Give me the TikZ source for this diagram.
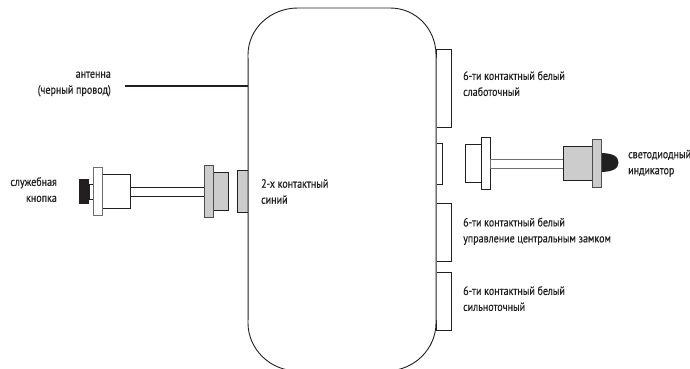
\documentclass[tikz,border=0pt]{standalone}
\usepackage{fontspec}
\setmainfont[FakeStretch=0.835,FakeBold=0.4]{PT Sans}
\definecolor{lg}{RGB}{204,204,204}
\definecolor{ln}{RGB}{35,31,32}
\definecolor{gl}{RGB}{110,110,110}
\newcommand{\tp}{\vphantom{(}}
\tikzset{
 lab/.style={font=\fontsize{12}{16}\selectfont,text=ln,inner sep=0pt},
 labl/.style={lab,align=left,anchor=north west},
 labr/.style={lab,align=right,anchor=north east},
 part/.style={draw=ln,line width=0.8pt,fill=white},
 partg/.style={part,fill=lg},
 flange/.style={draw=gl,line width=1pt,fill=white},
 flangeg/.style={draw=ln!80,line width=1pt,fill=lg},
 body/.style={draw=ln,line width=0.9pt,fill=white},
}
\begin{document}
\begin{tikzpicture}[x=1pt,y=-1pt]
\useasboundingbox (0,0) rectangle (690,369);
\begin{scope}
\clip (0,0) rectangle (690,369);
% right sockets
\draw[part] (436,49) rectangle (451,127.5);
\draw[part] (436,143) rectangle (442.5,184);
\draw[part] (436,203) rectangle (451,261);
\draw[part] (436,272) rectangle (451,330);
% blue socket
\draw[partg] (237,170.5) rectangle (248,212);
% body
\path[body] (248,55) .. controls (248,29) and (270,8) .. (298,8) -- (390,8) .. controls (416,8) and (436,29) .. (436,55)
 -- (436,323) .. controls (436,349) and (414,371) .. (386,371) -- (298,371) .. controls (270,371) and (248,349) .. (248,323) -- cycle;
\draw[gl,line width=1pt] (248,58) -- (248,320);
\draw[gl,line width=1pt] (436,58) -- (436,320);
\coordinate (antL) at (125,86);
\coordinate (antR) at (248,86);
\draw[ln,line width=1.7pt] (antL) -- (antR);
\end{scope}
% left connector
\node[draw=none,fill=ln,minimum width=10pt,minimum height=25pt,inner sep=0pt] (lk) at (84,191.5) {};
\draw[part] (89,184.5) rectangle (93,199);
\draw[part] (102,174) rectangle (130.5,208);
\draw[part] (130.5,187) rectangle (204,196);
\draw[flange] (93,167.5) rectangle (102,215);
\draw[partg] (213,172.5) rectangle (228.5,210);
\draw[flangeg] (204,165.5) rectangle (213,217);
% right connector
\draw[part] (465.5,144.5) rectangle (481,182);
\draw[part] (481,137.5) rectangle (490,189);
\draw[draw=gl,line width=1pt,fill=white] (490,159) rectangle (563.5,168);
\draw[fill=ln,draw=none] (600,153) .. controls (612,153) and (618.5,156) .. (618.5,162.5) .. controls (618.5,169) and (612,172) .. (600,172) -- cycle;
\draw[partg] (563.5,146.5) rectangle (592,180);
\draw[flangeg] (592,139.5) rectangle (601,187);
% labels
\node[labr] (t1) at (111,69) {\tp антенна\\(черный провод)};
\node[labr] (t2) at (57,177) {\tp служебная\\кнопка};
\node[labl] (t3) at (261,179) {\tp 2-х контактный\\синий};
\node[labl] (t4) at (463,71) {\tp 6-ти контактный белый\\слаботочный};
\node[labl] (t5) at (628,149.5) {\tp светодиодный\\индикатор};
\node[labl] (t6) at (463,217.5) {\tp 6-ти контактный белый\\управление центральным замком};
\node[labl] (t7) at (463,286) {\tp 6-ти контактный белый\\сильноточный};
\end{tikzpicture}
\end{document}
